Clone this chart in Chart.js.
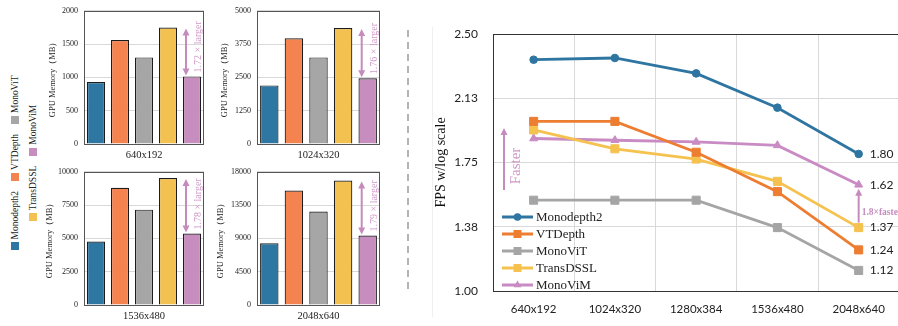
<!DOCTYPE html>
<html lang="en">
<head>
  <meta charset="UTF-8">
  <title>GPU memory and FPS</title>
  <script src="https://cdn.jsdelivr.net/npm/chart.js@4"></script>
  <style>
    html, body { margin:0; padding:0; overflow:hidden; background:#fff; }
    body { width:898px; height:326px; position:relative; font-family:'Liberation Serif', serif; }
    canvas { position:absolute; }
    #legend { position:absolute; left:-66px; top:145px; width:180px; height:36px; transform:rotate(-90deg);
              font-size:9.5px; color:#222; }
    #legend .row { height:18px; display:flex; justify-content:center; align-items:center; white-space:nowrap; }
    #legend .item { display:flex; align-items:center; margin:0 5px; }
    #legend .sw { width:8px; height:8px; margin-right:3px; }
    #sep { position:absolute; left:407px; top:30px; width:2px; height:261px;
           background:repeating-linear-gradient(to bottom,#b3b3b3 0 7px,transparent 7px 12px); }
    #frame { position:absolute; left:432px; top:27px; width:1px; height:290px; background:#efefef; }
  </style>
</head>
<body>
  <div id="legend"></div>
  <canvas id="m0" width="170" height="165" style="left:40px;top:0"></canvas>
  <canvas id="m1" width="173" height="165" style="left:213px;top:0"></canvas>
  <canvas id="m2" width="170" height="165" style="left:40px;top:161px"></canvas>
  <canvas id="m3" width="173" height="165" style="left:213px;top:161px"></canvas>
  <div id="sep"></div>
  <div id="frame"></div>
  <canvas id="fps" width="486" height="326" style="left:420px;top:0"></canvas>

  <script>
    // --- data ---
    const models = ['Monodepth2', 'VTDepth', 'MonoViT', 'TransDSSL', 'MonoViM'];
    const barColors = ['#2e77a3', '#f5834f', '#a6a6a6', '#f3c14f', '#c88dbf'];
    const lineColors = ['#2e75a1', '#ed7d31', '#a5a5a5', '#f6c24f', '#c98bc3'];

    const memRes = ['640x192', '1024x320', '1536x480', '2048x640'];
    const memMax = [2000, 5000, 10000, 18000];
    const mem640 = [930, 1560, 1300, 1750, 1015];
    const mem1024 = [2200, 3970, 3250, 4350, 2470];
    const mem1536 = [4770, 8800, 7160, 9540, 5360];
    const mem2048 = [8350, 15470, 12620, 16820, 9390];
    const memRatio = ['1.72 × larger', '1.76 × larger', '1.78 × larger', '1.79 × larger'];

    const fpsRes = ['640x192', '1024x320', '1280x384', '1536x480', '2048x640'];
    const fpsTicks = ['1.00', '1.38', '1.75', '2.13', '2.50'];
    const fpsMonodepth2 = [2.35, 2.36, 2.27, 2.07, 1.80];
    const fpsVTDepth = [1.99, 1.99, 1.81, 1.58, 1.24];
    const fpsMonoViT = [1.53, 1.53, 1.53, 1.37, 1.12];
    const fpsTransDSSL = [1.94, 1.83, 1.77, 1.64, 1.37];
    const fpsMonoViM = [1.89, 1.88, 1.87, 1.85, 1.62];
    const fpsSpeedup = '1.8×faster';

    Chart.defaults.font.family = "'Liberation Serif', serif";
    const PINK = '#c58bbd';
    const PINK_TXT = '#cf98c8';

    // rotated legend on the far left
    const legendRows = [[0, 1, 2], [3, 4]];
    document.getElementById('legend').innerHTML = legendRows.map(r =>
      '<div class="row">' + r.map(i =>
        `<span class="item"><span class="sw" style="background:${barColors[i]}"></span>${models[i]}</span>`
      ).join('') + '</div>').join('');

    // helpers
    function arrowHead(ctx, x, y, dir) {
      ctx.beginPath();
      ctx.moveTo(x, y);
      ctx.lineTo(x - 3.5, y - dir * 7);
      ctx.lineTo(x + 3.5, y - dir * 7);
      ctx.closePath();
      ctx.fill();
    }
    function rotText(ctx, txt, x, y, align) {
      ctx.save();
      ctx.translate(x, y);
      ctx.rotate(-Math.PI / 2);
      ctx.textAlign = align || 'center';
      ctx.textBaseline = 'middle';
      ctx.fillText(txt, 0, 0);
      ctx.restore();
    }
    function marker(ctx, style, x, y, color) {
      ctx.fillStyle = color;
      ctx.beginPath();
      if (style === 'circle') ctx.arc(x, y, 3.8, 0, Math.PI * 2);
      else if (style === 'rect') ctx.rect(x - 4, y - 4, 8, 8);
      else { ctx.moveTo(x, y - 4.5); ctx.lineTo(x + 3.9, y + 2.25); ctx.lineTo(x - 3.9, y + 2.25); ctx.closePath(); }
      ctx.fill();
    }

    const boxPlugin = {
      id: 'box',
      afterDraw(c) {
        const a = c.chartArea, ctx = c.ctx;
        ctx.save();
        ctx.strokeStyle = c.config.type === 'bar' ? '#555' : '#333';
        ctx.lineWidth = 1;
        ctx.strokeRect(Math.round(a.left) + 0.5, Math.round(a.top) + 0.5,
          Math.round(a.right - a.left) - 1, Math.round(a.bottom - a.top));
        ctx.restore();
      }
    };

    const ratioPlugin = {
      id: 'ratio',
      afterDraw(c) {
        const ctx = c.ctx, meta = c.getDatasetMeta(0);
        const idx = Number(c.canvas.id.slice(1));
        const hi = meta.data[3], lo = meta.data[4];
        const x = lo.x - 6, y1 = hi.y + 1, y2 = lo.y - 1;
        ctx.save();
        ctx.strokeStyle = PINK; ctx.fillStyle = PINK; ctx.lineWidth = 2;
        ctx.beginPath(); ctx.moveTo(x, y1 + 6); ctx.lineTo(x, y2 - 6); ctx.stroke();
        arrowHead(ctx, x, y1, -1);
        arrowHead(ctx, x, y2, 1);
        ctx.fillStyle = PINK_TXT;
        ctx.font = "10px 'Liberation Serif'";
        rotText(ctx, memRatio[idx], Math.round(lo.x) + 6, y2 - 3, 'left');
        ctx.restore();
      }
    };

    const memData = [mem640, mem1024, mem1536, mem2048];
    const titlePad = [8, 7, 5, 3];
    memData.forEach((vals, i) => {
      new Chart(document.getElementById('m' + i), {
        type: 'bar',
        data: {
          labels: models,
          datasets: [{
            data: vals,
            backgroundColor: barColors,
            borderColor: '#1c1c1c',
            borderWidth: 1.2,
            barPercentage: 0.75,
            categoryPercentage: 1
          }]
        },
        options: {
          responsive: false,
          animation: false,
          devicePixelRatio: 1,
          layout: { padding: { top: 8, right: 6, left: 0, bottom: 0 } },
          plugins: { legend: { display: false }, tooltip: { enabled: false } },
          scales: {
            x: {
              ticks: { display: false },
              grid: { display: false },
              border: { display: false },
              title: { display: true, text: memRes[i], color: '#222', font: { size: 10.5 }, padding: { top: 0, bottom: 3 } },
              afterFit: s => { s.height = 21; }
            },
            y: {
              min: 0, max: memMax[i],
              ticks: { stepSize: memMax[i] / 4, color: '#222', font: { size: 8 }, padding: 6, callback: v => String(v) },
              grid: { color: '#d9d9d9', drawTicks: false },
              border: { display: false },
              title: { display: true, text: 'GPU Memory（MB）', color: '#222', font: { size: 8.5 }, padding: { top: titlePad[i] } },
              afterFit: s => { s.width = 44; }
            }
          }
        },
        plugins: [boxPlugin, ratioPlugin]
      });
    });

    // --- FPS line chart ---
    const fpsSeries = [fpsMonodepth2, fpsVTDepth, fpsMonoViT, fpsTransDSSL, fpsMonoViM];
    const pointStyles = ['circle', 'rect', 'rect', 'rect', 'triangle'];
    const pointRadius = [3.8, 5.7, 5.7, 5.7, 4.6];

    const lineExtras = {
      id: 'lineExtras',
      afterDraw(c) {
        const ctx = c.ctx, a = c.chartArea;
        ctx.save();
        // end-value labels
        ctx.font = "12px Lato";
        ctx.fillStyle = '#222';
        ctx.textBaseline = 'middle';
        c.data.datasets.forEach((ds, i) => {
          const p = c.getDatasetMeta(i).data[ds.data.length - 1];
          ctx.fillText(ds.data[ds.data.length - 1].toFixed(2), p.x + 11, p.y);
        });
        // speed-up arrow between TransDSSL and MonoViM at last resolution
        const top = c.getDatasetMeta(4).data[4], bot = c.getDatasetMeta(3).data[4];
        ctx.strokeStyle = PINK; ctx.fillStyle = PINK; ctx.lineWidth = 2;
        ctx.beginPath(); ctx.moveTo(top.x, bot.y - 5); ctx.lineTo(top.x, top.y + 10); ctx.stroke();
        arrowHead(ctx, top.x, top.y + 4, -1);
        ctx.font = "bold 9.5px 'Liberation Serif'";
        ctx.textAlign = 'left';
        ctx.fillText(fpsSpeedup, top.x + 3, (top.y + bot.y) / 2 + 6);
        // "Faster" arrow
        const fx = a.left + 11;
        ctx.beginPath(); ctx.moveTo(fx, a.top + 156); ctx.lineTo(fx, a.top + 100); ctx.stroke();
        arrowHead(ctx, fx, a.top + 94, -1);
        ctx.fillStyle = PINK_TXT;
        ctx.font = "15px 'Liberation Serif'";
        rotText(ctx, 'Faster', a.left + 23, a.top + 132);
        // legend inside the plot
        ctx.font = "13px 'Liberation Serif'";
        ctx.textAlign = 'left';
        c.data.datasets.forEach((ds, i) => {
          const y = a.bottom - 74 + i * 17, x0 = a.left + 9;
          ctx.strokeStyle = ds.borderColor; ctx.lineWidth = 3;
          ctx.beginPath(); ctx.moveTo(x0, y); ctx.lineTo(x0 + 31, y); ctx.stroke();
          marker(ctx, ds.pointStyle, x0 + 15.5, y, ds.borderColor);
          ctx.fillStyle = '#222';
          ctx.fillText(ds.label, x0 + 34, y + 1);
        });
        ctx.restore();
      }
    };

    new Chart(document.getElementById('fps'), {
      type: 'line',
      data: {
        labels: fpsRes,
        datasets: fpsSeries.map((d, i) => ({
          label: models[i],
          data: d,
          borderColor: lineColors[i],
          backgroundColor: lineColors[i],
          borderWidth: 2.8,
          pointStyle: pointStyles[i],
          pointRadius: pointRadius[i],
          pointBorderWidth: 1,
          tension: 0
        }))
      },
      options: {
        responsive: false,
        animation: false,
        devicePixelRatio: 1,
        layout: { padding: { top: 34, right: 3, left: 0, bottom: 0 } },
        plugins: { legend: { display: false }, tooltip: { enabled: false } },
        scales: {
          x: {
            offset: true,
            grid: { offset: true, color: '#d9d9d9', drawTicks: false },
            border: { display: false },
            ticks: { color: '#222', font: { family: 'Lato', size: 11.5 }, padding: 11, maxRotation: 0 },
            afterFit: s => { s.height = 35; }
          },
          y: {
            min: 1, max: 2.5,
            ticks: { stepSize: 0.375, color: '#222', font: { family: 'Lato', size: 12 }, padding: 15,
                     callback: (v, i) => fpsTicks[i] },
            grid: { color: '#d9d9d9', drawTicks: false },
            border: { display: false },
            title: { display: true, text: 'FPS w/log scale', color: '#111', font: { size: 14 }, padding: { top: 12.5 } },
            afterFit: s => { s.width = 73; }
          }
        }
      },
      plugins: [boxPlugin, lineExtras]
    });
  </script>
</body>
</html>
